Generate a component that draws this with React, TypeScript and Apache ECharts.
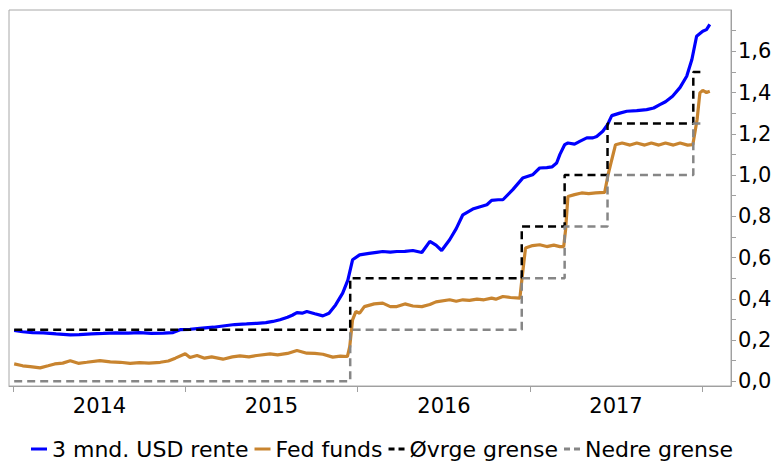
import React, { useEffect, useRef } from "react";
import * as echarts from "echarts";

// 3 mnd. USD rente (date, value)
const usdDates = [
  "2014-01-02","2014-01-20","2014-02-10","2014-03-05","2014-04-01","2014-05-01","2014-05-20","2014-06-15","2014-07-10","2014-08-05",
  "2014-09-01","2014-09-25","2014-10-20","2014-11-15","2014-12-05","2014-12-20","2015-01-10","2015-02-05","2015-03-01","2015-03-21",
  "2015-04-15","2015-05-10","2015-06-01","2015-06-20","2015-07-05","2015-07-20","2015-08-05","2015-08-15","2015-08-25","2015-09-05",
  "2015-09-15","2015-10-02","2015-10-19","2015-11-01","2015-11-15","2015-11-30","2015-12-11","2015-12-21","2016-01-05","2016-01-25",
  "2016-02-10","2016-02-23","2016-03-10","2016-03-24","2016-04-10","2016-04-27","2016-05-16","2016-06-02","2016-06-15","2016-06-27",
  "2016-07-14","2016-07-28","2016-08-11","2016-09-01","2016-09-15","2016-10-01","2016-10-11","2016-10-25","2016-11-04","2016-11-25",
  "2016-12-16","2017-01-06","2017-01-21","2017-02-05","2017-02-16","2017-02-26","2017-03-05","2017-03-15","2017-03-22","2017-04-05",
  "2017-04-16","2017-05-01","2017-05-14","2017-05-22","2017-06-04","2017-06-14","2017-06-23","2017-07-10","2017-07-25","2017-08-15",
  "2017-09-05","2017-09-20","2017-10-03","2017-10-15","2017-10-30","2017-11-15","2017-11-29","2017-12-10","2017-12-20","2018-01-02",
  "2018-01-10","2018-01-17"
];
const usdValues = [
  0.246,0.240,0.236,0.235,0.230,0.225,0.226,0.230,0.232,0.235,
  0.233,0.236,0.232,0.233,0.236,0.250,0.252,0.258,0.262,0.268,
  0.275,0.278,0.281,0.284,0.290,0.298,0.310,0.320,0.333,0.330,
  0.338,0.327,0.317,0.330,0.370,0.427,0.490,0.589,0.613,0.620,
  0.625,0.629,0.626,0.629,0.630,0.634,0.624,0.678,0.660,0.634,
  0.686,0.740,0.807,0.835,0.845,0.856,0.877,0.880,0.880,0.929,
  0.985,1.001,1.034,1.036,1.039,1.058,1.100,1.147,1.155,1.150,
  1.163,1.180,1.180,1.187,1.212,1.244,1.288,1.300,1.309,1.312,
  1.317,1.325,1.341,1.355,1.382,1.425,1.479,1.560,1.673,1.697,
  1.705,1.730
];

// Fed funds effective (date, value)
const fedDates = [
  "2014-01-02","2014-01-20","2014-02-05","2014-02-26","2014-03-15","2014-03-29","2014-04-15","2014-05-01","2014-05-18","2014-06-05",
  "2014-07-03","2014-07-25","2014-08-15","2014-09-05","2014-09-25","2014-10-15","2014-11-08","2014-11-25","2014-12-10","2014-12-31",
  "2015-01-10","2015-01-25","2015-02-10","2015-02-25","2015-03-21","2015-04-10","2015-04-26","2015-05-15","2015-06-01","2015-06-29",
  "2015-07-15","2015-08-05","2015-08-25","2015-09-15","2015-10-02","2015-10-19","2015-11-09","2015-11-25","2015-12-10","2015-12-15",
  "2015-12-21","2015-12-28","2016-01-05","2016-01-15","2016-02-05","2016-02-23","2016-03-10","2016-03-24","2016-04-10","2016-04-27",
  "2016-05-16","2016-06-02","2016-06-15","2016-07-14","2016-07-28","2016-08-11","2016-08-25","2016-09-10","2016-09-25","2016-10-11",
  "2016-10-20","2016-11-04","2016-11-20","2016-12-10","2016-12-15","2016-12-22","2017-01-06","2017-01-21","2017-02-05","2017-02-20",
  "2017-03-05","2017-03-13","2017-03-17","2017-03-22","2017-04-05","2017-04-20","2017-05-05","2017-05-20","2017-06-08","2017-06-15",
  "2017-06-23","2017-07-01","2017-07-15","2017-08-01","2017-08-15","2017-09-01","2017-09-15","2017-10-01","2017-10-15","2017-11-01",
  "2017-11-15","2017-12-01","2017-12-12","2017-12-21","2017-12-27","2018-01-02","2018-01-10","2018-01-17"
];
const fedValues = [
  0.084,0.075,0.071,0.065,0.075,0.084,0.088,0.099,0.087,0.092,
  0.100,0.094,0.092,0.087,0.090,0.088,0.092,0.098,0.112,0.133,
  0.115,0.125,0.112,0.118,0.107,0.118,0.123,0.118,0.125,0.133,
  0.128,0.135,0.149,0.136,0.135,0.131,0.117,0.122,0.120,0.168,
  0.298,0.338,0.330,0.362,0.375,0.379,0.362,0.362,0.375,0.365,
  0.362,0.372,0.385,0.395,0.388,0.395,0.392,0.398,0.395,0.403,
  0.398,0.411,0.406,0.403,0.508,0.646,0.658,0.662,0.653,0.660,
  0.653,0.653,0.734,0.896,0.905,0.913,0.910,0.913,0.916,1.000,
  1.074,1.147,1.155,1.145,1.155,1.145,1.155,1.145,1.155,1.145,
  1.155,1.145,1.147,1.268,1.398,1.410,1.400,1.406
];

// Target range (step changes)
const rangeDates = ["2014-01-02","2015-12-16","2016-12-14","2017-03-15","2017-06-14","2017-12-13","2018-01-03"];
const upperValues = [0.25,0.5,0.75,1.0,1.25,1.5,1.5];
const lowerValues = [0.0,0.25,0.5,0.75,1.0,1.25,1.25];

const seriesNames = ["3 mnd. USD rente","Fed funds","Øvrge grense","Nedre grense"];
const yearTicks = ["2014-01-01","2015-01-01","2016-01-01","2017-01-01","2018-01-01"];
const yearLabels = ["2014-07-02","2015-07-02","2016-07-02","2017-07-02"];
const yTickValues = [0,1,2,3,4,5,6,7,8,9,10,11,12,13,14,15,16,17].map((i) => i / 10);
const yLabelValues = [0,2,4,6,8,10,12,14,16].map((i) => i / 10);

const ts = (d: string) => Date.parse(d + "T00:00:00Z");
const pairs = (ds: string[], vs: number[]) => ds.map((d, i) => [ts(d), vs[i]]);

const FONT = "DejaVu Sans";
const SOLID_ICON = "path://M0,0H16V3H0Z";
const DASH_ICON = "path://M0,0H6V3H0Z M10,0H16V3H10Z";

export default function App() {
  const ref = useRef<HTMLDivElement>(null);
  useEffect(() => {
    document.body.style.margin = "0";
    if (!ref.current) return;
    const chart = echarts.init(ref.current, null, { renderer: "svg" });
    chart.setOption({
      animation: false,
      grid: { left: 9, right: 49, top: 10, bottom: 76, show: true, borderColor: "#a8a8a8", borderWidth: 1 },
      legend: {
        left: 26,
        top: 433,
        itemWidth: 16,
        itemHeight: 3,
        itemGap: 6,
        textStyle: { fontFamily: FONT, fontSize: 22, color: "#000" },
        itemStyle: { borderWidth: 0 },
        data: [
          { name: seriesNames[0], icon: SOLID_ICON },
          { name: seriesNames[1], icon: SOLID_ICON },
          { name: seriesNames[2], icon: DASH_ICON },
          { name: seriesNames[3], icon: DASH_ICON },
        ],
      },
      xAxis: {
        type: "value",
        min: ts("2013-12-22"),
        max: ts("2018-03-03"),
        axisLine: { show: true, onZero: false, lineStyle: { color: "#a0a0a0", width: 1 } },
        axisTick: { show: true, length: 6, lineStyle: { color: "#a0a0a0" }, customValues: yearTicks.map(ts) },
        axisLabel: {
          customValues: yearLabels.map(ts),
          formatter: (v: number) => String(new Date(v).getUTCFullYear()),
          fontFamily: FONT,
          fontSize: 21,
          color: "#000",
          margin: 9,
        },
        splitLine: { show: false },
      },
      yAxis: {
        type: "value",
        position: "right",
        min: -0.023,
        max: 1.8,
        axisLine: { show: true, lineStyle: { color: "#a0a0a0", width: 1 } },
        axisTick: { show: true, inside: false, length: 5, lineStyle: { color: "#a0a0a0" }, customValues: yTickValues },
        axisLabel: {
          customValues: yLabelValues,
          formatter: (v: number) => v.toFixed(1).replace(".", ","),
          fontFamily: FONT,
          fontSize: 21,
          color: "#000",
          margin: 7,
        },
        splitLine: { show: false },
      },
      series: [
        {
          name: seriesNames[0],
          type: "line",
          symbol: "none",
          data: pairs(usdDates, usdValues),
          lineStyle: { color: "#0000ff", width: 3.2 },
          itemStyle: { color: "#0000ff" },
        },
        {
          name: seriesNames[1],
          type: "line",
          symbol: "none",
          data: pairs(fedDates, fedValues),
          lineStyle: { color: "#c8842f", width: 3.2 },
          itemStyle: { color: "#c8842f" },
        },
        {
          name: seriesNames[2],
          type: "line",
          symbol: "none",
          step: "end",
          data: pairs(rangeDates, upperValues),
          lineStyle: { color: "#000000", width: 2.5, type: [8, 5] },
          itemStyle: { color: "#000000" },
        },
        {
          name: seriesNames[3],
          type: "line",
          symbol: "none",
          step: "end",
          data: pairs(rangeDates, lowerValues),
          lineStyle: { color: "#868686", width: 2.5, type: [8, 5] },
          itemStyle: { color: "#868686" },
        },
      ],
    });
    return () => chart.dispose();
  }, []);
  return <div ref={ref} style={{ width: 780, height: 462 }} />;
}
